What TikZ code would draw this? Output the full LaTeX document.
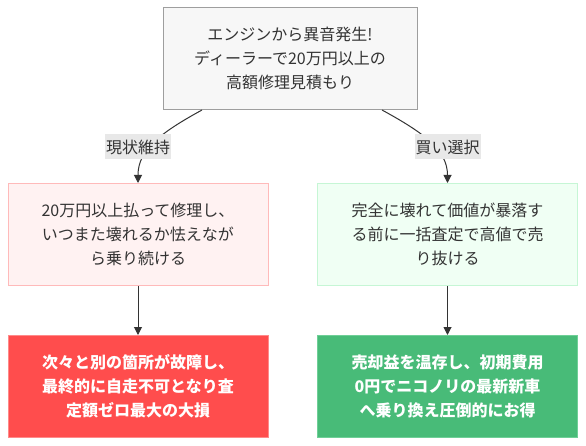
\documentclass[tikz,border=0pt]{standalone}
\usepackage{fontspec}
\setmainfont{Noto Sans CJK JP}
\usetikzlibrary{arrows.meta}
\definecolor{txtgray}{HTML}{333333}
\definecolor{startfill}{HTML}{F7F7F7}
\definecolor{startline}{HTML}{9E9E9E}
\definecolor{keepfill}{HTML}{FFF2F2}
\definecolor{keepline}{HTML}{FFBABA}
\definecolor{sellfill}{HTML}{F0FFF4}
\definecolor{sellline}{HTML}{C6F6D5}
\definecolor{lossfill}{HTML}{FF4D4D}
\definecolor{lossline}{HTML}{FF8A8A}
\definecolor{gainfill}{HTML}{48BB78}
\definecolor{gainline}{HTML}{6FCF97}
\definecolor{tagfill}{HTML}{E8E8E8}

\begin{document}
\begin{tikzpicture}[x=1pt, y=-1pt,
    box/.style={draw, line width=1pt, minimum width=260pt, minimum height=102pt,
      align=center, text=txtgray, font=\fontsize{16}{24}\selectfont},
    tag/.style={fill=tagfill, text=txtgray, inner sep=1pt, minimum height=25pt,
      font=\fontsize{16}{20}\selectfont},
    link/.style={draw=txtgray, line width=1pt, -{Triangle[length=8pt, width=8pt]}}]
    \useasboundingbox (0,0) rectangle (586,446);

    % Estimate
    \node[box, minimum width=254pt, draw=startline, fill=startfill] (start) at (290,58.5)
      {エンジンから異音発生!\\ディーラーで20万円以上の\\高額修理見積もり};

    % Keep the car
    \node[box, draw=keepline, fill=keepfill] (keep) at (138,234.5)
      {20万円以上払って修理し、\\いつまた壊れるか怯えなが\\ら乗り続ける};
    \node[box, draw=lossline, fill=lossfill, text=white, font=\fontsize{16}{24}\selectfont\bfseries] (loss) at (138,386.5)
      {次々と別の箇所が故障し、\\最終的に自走不可となり査\\定額ゼロ最大の大損};

    % Sell the car
    \node[box, draw=sellline, fill=sellfill] (sell) at (447.5,234.5)
      {完全に壊れて価値が暴落す\\る前に一括査定で高値で売\\り抜ける};
    \node[box, draw=gainline, fill=gainfill, text=white, font=\fontsize{16}{24}\selectfont\bfseries] (gain) at (447.5,386.5)
      {売却益を温存し、初期費用\\0円でニコノリの最新新車\\へ乗り換え圧倒的にお得};

    % Connections
    \draw[link] ([xshift=-88pt]start.south) .. controls (160,133) and (138,150) .. (keep.north);
    \draw[link] ([xshift=92pt]start.south) .. controls (424,133) and (447.5,150) .. (sell.north);
    \node[tag] (keeptag) at (138,147) {現状維持};
    \node[tag] (selltag) at (447.5,147) {買い選択};
    \draw[link] (keep) -- (loss);
    \draw[link] (sell) -- (gain);
\end{tikzpicture}
\end{document}
